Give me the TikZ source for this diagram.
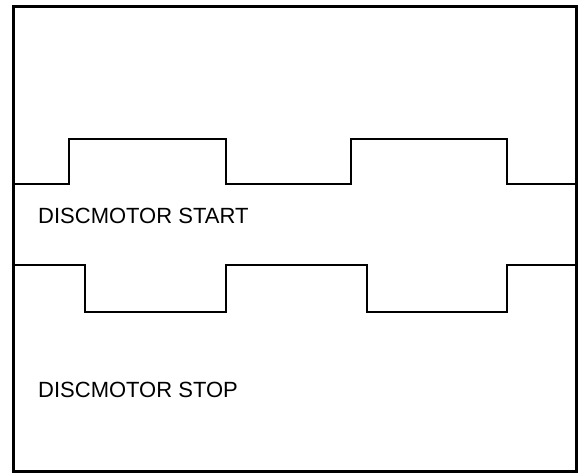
\documentclass[tikz,border=0pt]{standalone}
\usepackage{fontspec}
\setmainfont{Liberation Sans}
\begin{document}
\begin{tikzpicture}[x=1pt,y=-1pt,
    sigtext/.style={anchor=base west,inner sep=0pt,font=\fontsize{22}{26}\selectfont}]
      \useasboundingbox (0,0) rectangle (586,474);
      \draw[line width=3pt] (13,6) rectangle (576,471);
      \draw
        (38,223) node[sigtext] (start){DISCMOTOR START}
        (38,397) node[sigtext] (stop){DISCMOTOR STOP};
      \begin{scope}[line width=1.8pt]
        \draw (13,184) -- (69,184) -- (69,139) -- (226,139) -- (226,184) -- (351,184)
          -- (351,139) -- (507,139) -- (507,184) -- (576,184);
        \draw (13,265) -- (85,265) -- (85,312) -- (226,312) -- (226,265) -- (367,265)
          -- (367,312) -- (507,312) -- (507,265) -- (576,265);
      \end{scope}
    \end{tikzpicture}
\end{document}
